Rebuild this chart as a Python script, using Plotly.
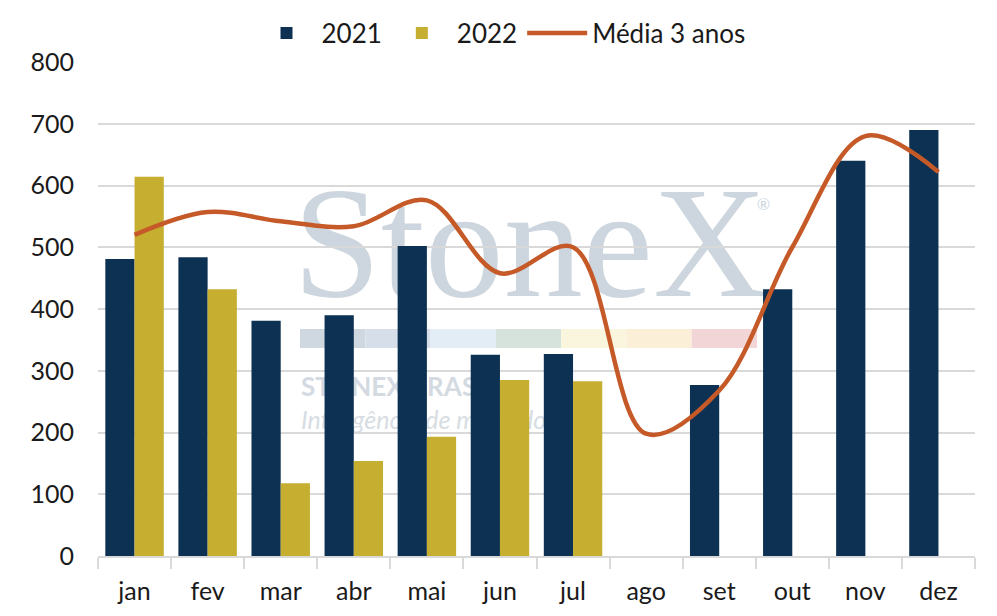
import plotly.graph_objects as go

# Monthly values
MONTHS = ["jan", "fev", "mar", "abr", "mai", "jun", "jul", "ago", "set", "out", "nov", "dez"]
VALUES_2021 = [481, 484, 381, 390, 502, 326, 327, None, 277, 432, 640, 690]
VALUES_2022 = [614, 432, 118, 154, 193, 285, 283, None, None, None, None, None]
AVG_3Y = [520, 557, 542, 534, 576, 458, 500, 198, 268, 500, 680, 622]

Y_TICKS = [0, 100, 200, 300, 400, 500, 600, 700, 800]

NAVY = "#0c3152"
GOLD = "#c5ae30"
ORANGE = "#c55a28"
GRID = "#d9d9d9"
TEXT = "#1a1a1a"
FONT = "Lato, 'Open Sans', sans-serif"

# Watermark strip colours (left to right)
STRIP_COLORS = ["#cfd8e0", "#d6dfe9", "#e3edf5", "#d5e3dc", "#faf5dd", "#fcefd7", "#f2d6d7"]

fig = go.Figure()

fig.add_trace(
    go.Bar(x=MONTHS, y=VALUES_2021, name="2021", marker={"color": NAVY, "line": {"width": 0}})
)
fig.add_trace(
    go.Bar(x=MONTHS, y=VALUES_2022, name="2022", marker={"color": GOLD, "line": {"width": 0}})
)
fig.add_trace(
    go.Scatter(
        x=MONTHS,
        y=AVG_3Y,
        name="Média 3 anos",
        mode="lines",
        line={"color": ORANGE, "width": 4.5, "shape": "spline", "smoothing": 1.0},
    )
)

# --- watermark, kept below the bars (positions measured on the plot area) ---
def px_x(p):
    return (p - 98) / 877


def px_y(p):
    return (556 - p) / 494


shapes = []
shapes.append(
    dict(
        type="rect", xref="paper", yref="paper",
        x0=px_x(290), x1=px_x(770), y0=px_y(290), y1=px_y(160),
        line={"width": 0}, fillcolor="rgba(0,0,0,0)", layer="below",
        label={
            "text": "StoneX",
            "textposition": "middle center",
            "font": {"family": "'Liberation Serif', 'DejaVu Serif', serif", "size": 158, "color": "#cdd6de"},
        },
    )
)
shapes.append(
    dict(
        type="rect", xref="paper", yref="paper",
        x0=px_x(752), x1=px_x(775), y0=px_y(214), y1=px_y(192),
        line={"width": 0}, fillcolor="rgba(0,0,0,0)", layer="below",
        label={"text": "®", "textposition": "middle center",
               "font": {"family": FONT, "size": 16, "color": "#cdd6de"}},
    )
)
seg_w = (757 - 300) / len(STRIP_COLORS)
for i, c in enumerate(STRIP_COLORS):
    shapes.append(
        dict(
            type="rect", xref="paper", yref="paper",
            x0=px_x(300 + i * seg_w), x1=px_x(300 + (i + 1) * seg_w),
            y0=px_y(348), y1=px_y(329),
            line={"width": 0}, fillcolor=c, layer="below",
        )
    )
shapes.append(
    dict(
        type="rect", xref="paper", yref="paper",
        x0=px_x(298), x1=px_x(700), y0=px_y(400), y1=px_y(372),
        line={"width": 0}, fillcolor="rgba(0,0,0,0)", layer="below",
        label={"text": "STONEX BRASIL", "textposition": "middle left", "padding": 0,
               "font": {"family": FONT, "size": 26, "color": "#d3dae1", "weight": "bold"}},
    )
)
shapes.append(
    dict(
        type="rect", xref="paper", yref="paper",
        x0=px_x(298), x1=px_x(700), y0=px_y(433), y1=px_y(405),
        line={"width": 0}, fillcolor="rgba(0,0,0,0)", layer="below",
        label={"text": "Inteligência de mercado", "textposition": "middle left", "padding": 0,
               "font": {"family": FONT, "size": 25, "color": "#d7dde3", "style": "italic"}},
    )
)

fig.update_layout(
    width=997,
    height=616,
    barmode="group",
    bargap=0.2,
    bargroupgap=0,
    paper_bgcolor="white",
    plot_bgcolor="white",
    font={"family": FONT, "size": 25, "color": TEXT},
    margin={"l": 90, "r": 30, "t": 54, "b": 68, "autoexpand": False},
    showlegend=True,
    legend={
        "orientation": "h",
        "xref": "container",
        "yref": "container",
        "x": 493 / 997,
        "xanchor": "center",
        "y": 1 - 25 / 616,
        "yanchor": "middle",
        "font": {"family": FONT, "size": 26, "color": TEXT},
        "itemwidth": 60,
        "traceorder": "normal",
    },
    xaxis={
        "showline": True,
        "linecolor": GRID,
        "linewidth": 1.5,
        "ticks": "outside",
        "tickson": "boundaries",
        "ticklen": 11,
        "tickcolor": GRID,
        "tickwidth": 1.5,
        "showgrid": False,
        "ticklabelstandoff": 12,
        "automargin": False,
    },
    yaxis={
        "range": [0, 800],
        "tickvals": Y_TICKS,
        "showgrid": True,
        "gridcolor": GRID,
        "gridwidth": 1.5,
        "zeroline": False,
        "showline": False,
        "ticks": "outside",
        "ticklen": 18,
        "tickcolor": "rgba(0,0,0,0)",
        "automargin": False,
    },
    shapes=shapes,
)

fig.write_html("out.html")
